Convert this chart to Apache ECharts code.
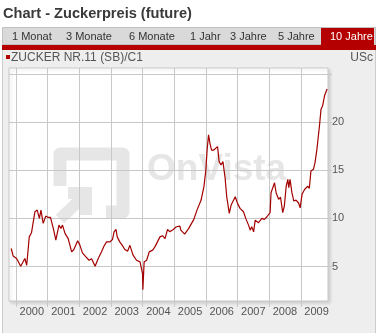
<!DOCTYPE html>
<html><head><meta charset="utf-8">
<script src="https://cdn.jsdelivr.net/npm/echarts@6/dist/echarts.min.js"></script>
<style>html,body{margin:0;padding:0;background:#fff}#c{width:377px;height:333px}</style>
</head><body><div id="c"></div>
<script>
// Decimal-year positions and sugar price (US cents/lb)
const years = [1999.85,1999.91,2000.02,2000.07,2000.15,2000.21,2000.28,2000.34,2000.42,2000.49,2000.60,2000.67,2000.74,2000.79,2000.86,2000.94,
2001.02,2001.09,2001.18,2001.26,2001.36,2001.42,2001.47,2001.55,2001.65,2001.76,2001.83,2001.95,
2002.02,2002.10,2002.21,2002.31,2002.39,2002.50,2002.60,2002.70,2002.78,2002.86,2002.97,
2003.05,2003.10,2003.16,2003.20,2003.28,2003.36,2003.44,2003.53,2003.60,2003.70,2003.81,2003.92,2003.97,
2004.00,2004.01,2004.05,2004.13,2004.21,2004.32,2004.39,2004.44,2004.55,2004.63,2004.71,2004.79,2004.86,2004.97,
2005.07,2005.18,2005.21,2005.33,2005.46,2005.62,2005.72,2005.85,2005.94,
2006.00,2006.04,2006.085,2006.13,2006.18,2006.25,2006.29,2006.37,2006.42,2006.48,2006.54,2006.61,2006.66,2006.74,2006.80,2006.85,2006.93,
2007.00,2007.08,2007.19,2007.26,2007.35,2007.40,2007.45,2007.51,2007.56,2007.66,2007.77,2007.85,2007.93,2007.98,
2008.03,2008.06,2008.17,2008.22,2008.30,2008.36,2008.43,2008.48,2008.54,2008.59,2008.62,2008.66,2008.72,2008.78,2008.85,2008.93,2008.98,
2009.04,2009.12,2009.17,2009.22,2009.27,2009.32,2009.40,2009.45,2009.51,2009.59,2009.64,2009.69,2009.75,2009.83];
const prices = [6.87,6.1,5.83,5.65,5.03,5.0,5.83,5.13,8.08,8.5,10.7,10.86,10.0,10.86,9.48,10.24,
10.1,10.1,8.96,7.74,9.3,8.96,9.3,8.44,7.9,6.52,6.77,7.67,
7.22,6.42,6.0,5.65,5.8,5.03,5.83,6.52,7.11,7.56,7.56,
7.8,8.6,8.85,8.08,7.56,7.2,6.77,6.6,7.2,6.18,5.65,5.48,5.6,
4.27,2.6,5.48,5.65,6.52,6.7,7.04,6.9,8.08,8.2,7.9,8.85,8.6,8.85,
9.13,9.2,8.78,8.36,8.96,9.9,10.86,11.9,13.3,
15.03,17.1,18.68,17.8,17.1,17.1,17.3,17.46,15.9,15.55,15.9,14.17,12.25,10.52,11.4,11.2,12.25,
11.56,11.04,10.69,10.0,9.3,8.78,9.13,8.6,9.82,9.54,10.0,9.9,10.17,10.0,
10.6,12.67,13.7,12.67,11.98,12.2,10.6,11.28,13.36,14.06,13.2,14.06,12.67,11.8,11.9,11.6,11.1,
12.5,13.0,12.8,13.36,13.1,14.93,15.1,15.79,17.2,19.6,21.35,21.7,22.74,23.44];
const yearTicks = [2000,2001,2002,2003,2004,2005,2006,2007,2008,2009];
const yearLabelPos = [2000.5,2001.5,2002.5,2003.5,2004.5,2005.5,2006.5,2007.5,2008.5,2009.5];
const priceTicks = [5,10,15,20,25];
const priceLabels = [5,10,15,20];
const tabs = ['1 Monat','3 Monate','6 Monate','1 Jahr','3 Jahre','5 Jahre','10 Jahre'];
const tabX = [12,66,129,190,230,278,330];

const F = 'Liberation Sans, Arial, sans-serif';
const chart = echarts.init(document.getElementById('c'), null, {renderer:'canvas'});
const red = '#b40000';
const graphics = [
  {type:'rect', z:-10, shape:{x:2.5,y:45.5,width:373,height:295}, style:{fill:'#eeeeee', stroke:'#cccccc', lineWidth:1}},
  {type:'rect', z:-9, shape:{x:2.5,y:27.5,width:373,height:17}, style:{fill:'#d9d9d9', stroke:'#c2c2c2', lineWidth:1}},
  {type:'rect', z:-8, shape:{x:321,y:28,width:53,height:17}, style:{fill:red}},
  {type:'rect', z:-8, shape:{x:2,y:45,width:374,height:5}, style:{fill:red}},
  {type:'text', z:5, x:3, y:14, style:{text:'Chart - Zuckerpreis (future)', font:'bold 14.6px '+F, fill:'#3a3a3a', verticalAlign:'middle'}},
  {type:'rect', z:5, shape:{x:6,y:55,width:4,height:4}, style:{fill:red}},
  {type:'text', z:5, x:11, y:57.5, style:{text:'ZUCKER NR.11 (SB)/C1', font:'12px '+F, fill:'#555', verticalAlign:'middle'}},
  {type:'text', z:5, x:373, y:57.5, style:{text:'USc', font:'12px '+F, fill:'#555', align:'right', verticalAlign:'middle'}},
  // watermark
  {type:'polyline', z:1, shape:{points:[[60,186],[60,154],[123,154],[123,212],[106,212]]}, style:{stroke:'#e6e6e6', lineWidth:13, fill:null, lineJoin:'round', lineCap:'butt'}},
  {type:'polyline', z:1, shape:{points:[[68,193],[86,193],[86,215]]}, style:{stroke:'#e6e6e6', lineWidth:12, fill:null, lineJoin:'miter'}},
  {type:'line', z:1, shape:{x1:84,y1:196,x2:60,y2:219}, style:{stroke:'#e6e6e6', lineWidth:12}},
  {type:'text', z:1, x:147, y:170, style:{text:'OnVista', font:'bold 37px '+F, fill:'#e6e6e6', verticalAlign:'middle'}}
];
tabs.forEach((t,i)=>{
  graphics.push({type:'text', z:5, x:tabX[i], y:37, style:{text:t, font:'11px '+F, fill: i===tabs.length-1?'#fff':'#333', verticalAlign:'middle'}});
});

chart.setOption({
  animation:false,
  backgroundColor:'#fff',
  graphic: graphics,
  grid:{left:9, top:68, right:49, bottom:32, show:true, backgroundColor:'#fff', borderColor:'#c8c8c8', borderWidth:1,
        shadowColor:'rgba(0,0,0,0.12)', shadowBlur:3, shadowOffsetX:2, shadowOffsetY:2, z:0},
  xAxis:{type:'value', min:1999.78, max:2009.86, z:2,
    axisLine:{show:false},
    axisTick:{show:true, customValues:yearTicks, length:6, lineStyle:{color:'#c8c8c8'}},
    axisLabel:{customValues:yearLabelPos, formatter:v=>String(Math.floor(v)), color:'#555', fontSize:11, fontFamily:F, margin:5},
    splitLine:{show:true, lineStyle:{color:'#c8c8c8', width:1}}},
  yAxis:{type:'value', position:'right', min:1.417, max:25.625, z:2,
    axisLine:{show:false},
    axisTick:{show:true, customValues:priceTicks, length:4, lineStyle:{color:'#c8c8c8'}},
    axisLabel:{customValues:priceLabels, color:'#555', fontSize:11, fontFamily:F, margin:4},
    splitLine:{show:true, lineStyle:{color:'#c8c8c8', width:1}}},
  series:[{type:'line', z:3, showSymbol:false, data: years.map((y,i)=>[y,prices[i]]),
    lineStyle:{color:'#a30000', width:1.2}, itemStyle:{color:'#a30000'}}]
});
</script></body></html>
